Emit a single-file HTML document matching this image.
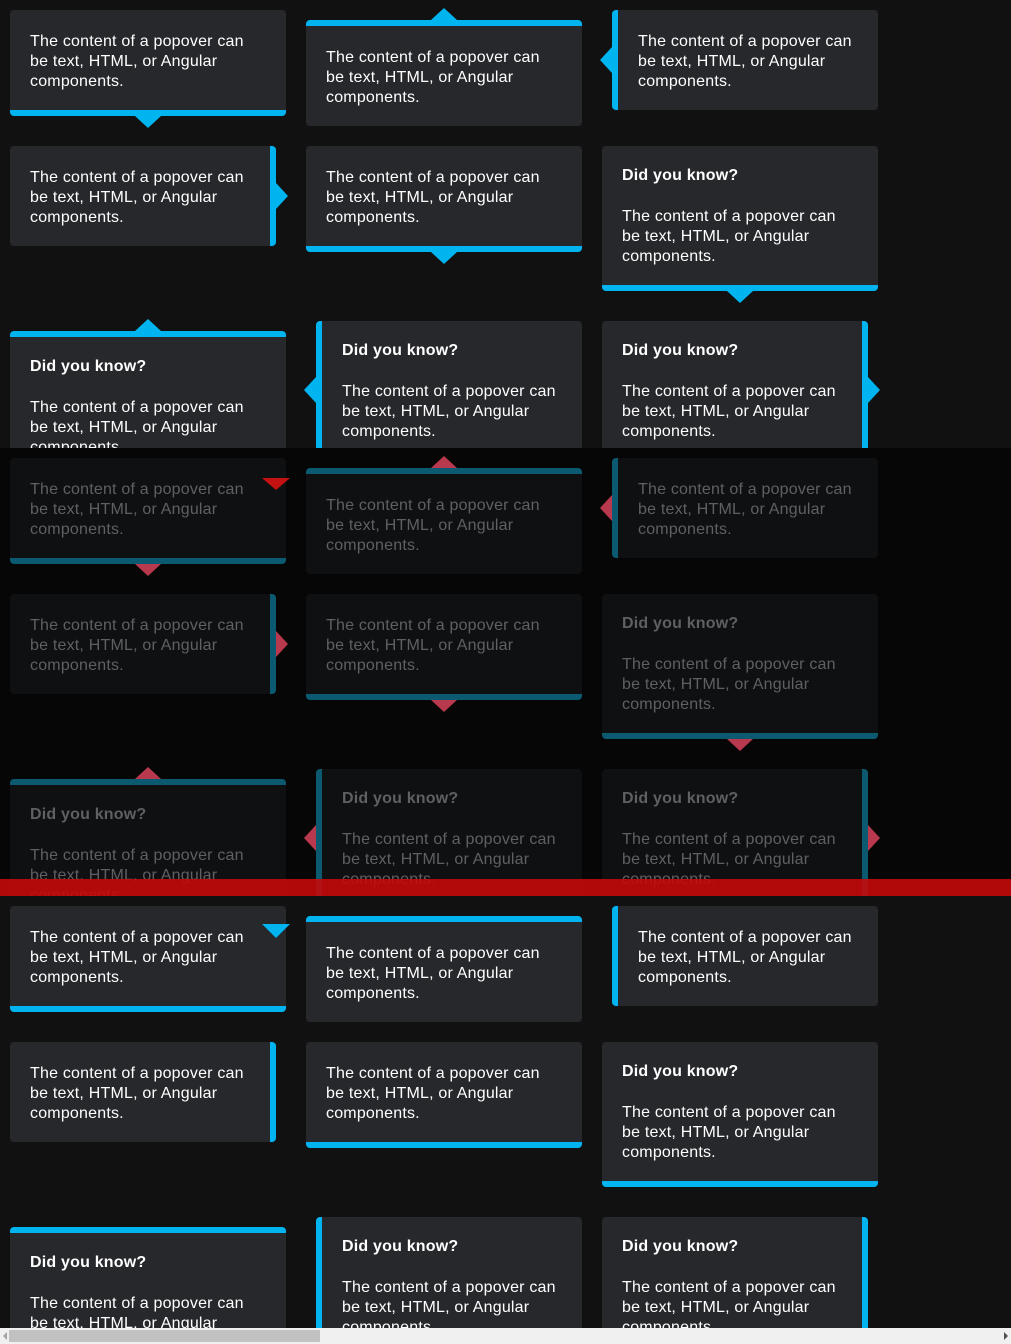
<!DOCTYPE html>
<html><head><meta charset="utf-8">
<style>
*{margin:0;padding:0;box-sizing:border-box}
html,body{width:1011px;height:1344px;overflow:hidden;background:#111112;font-family:"Liberation Sans",sans-serif}
.band{position:absolute;left:0;width:1011px;overflow:hidden}
.p{position:absolute;border-radius:4px;background:#27282c;color:#fff;font-size:16px;letter-spacing:0.2px;line-height:20px;padding:22px 26px 20px 20px}
.t{padding-top:20px}
.t h4{font-size:16px;font-weight:bold;line-height:20px;margin-bottom:21px}
.bb{border-bottom:6px solid #00b4ef}
.bt{border-top:6px solid #00b4ef}
.bl{border-left:6px solid #00b4ef}
.br{border-right:6px solid #00b4ef}
.a{position:absolute;width:0;height:0}
.ad{border-left:13px solid transparent;border-right:13px solid transparent;border-top:12px solid #00b4ef}
.au{border-left:13px solid transparent;border-right:13px solid transparent;border-bottom:12px solid #00b4ef}
.al{border-top:13px solid transparent;border-bottom:13px solid transparent;border-right:12px solid #00b4ef}
.ar{border-top:13px solid transparent;border-bottom:13px solid transparent;border-left:12px solid #00b4ef}
.dim{background:#060606}
.dim .p{background:#0f1012;color:#5f6063;border-color:#0b5a70}
.dim .ad{border-top-color:#b8394e}.dim .au{border-bottom-color:#b8394e}
.dim .al{border-right-color:#b8394e}.dim .ar{border-left-color:#b8394e}
</style></head><body>

<div class="band" style="top:0;height:448px">
<div class="p bb" style="left:10px;top:10px;width:276px;height:106px">The content of a popover can be text, HTML, or Angular components.</div>
<div class="a ad" style="left:135px;top:116px"></div>
<div class="p bt" style="left:306px;top:20px;width:276px;height:106px">The content of a popover can be text, HTML, or Angular components.</div>
<div class="a au" style="left:431px;top:8px"></div>
<div class="p bl" style="left:612px;top:10px;width:266px;height:100px">The content of a popover can be text, HTML, or Angular components.</div>
<div class="a al" style="left:600px;top:47px"></div>
<div class="p br" style="left:10px;top:146px;width:266px;height:100px">The content of a popover can be text, HTML, or Angular components.</div>
<div class="a ar" style="left:276px;top:183px"></div>
<div class="p bb" style="left:306px;top:146px;width:276px;height:106px">The content of a popover can be text, HTML, or Angular components.</div>
<div class="a ad" style="left:431px;top:252px"></div>
<div class="p bb t" style="left:602px;top:146px;width:276px;height:145px"><h4>Did you know?</h4>The content of a popover can be text, HTML, or Angular components.</div>
<div class="a ad" style="left:727px;top:291px"></div>
<div class="p bt t" style="left:10px;top:331px;width:276px;height:145px"><h4>Did you know?</h4>The content of a popover can be text, HTML, or Angular components.</div>
<div class="a au" style="left:135px;top:319px"></div>
<div class="p bl t" style="left:316px;top:321px;width:266px;height:139px"><h4>Did you know?</h4>The content of a popover can be text, HTML, or Angular components.</div>
<div class="a al" style="left:304px;top:377px"></div>
<div class="p br t" style="left:602px;top:321px;width:266px;height:139px"><h4>Did you know?</h4>The content of a popover can be text, HTML, or Angular components.</div>
<div class="a ar" style="left:868px;top:377px"></div>
</div>

<div class="band dim" style="top:448px;height:448px">
<div class="p bb" style="left:10px;top:10px;width:276px;height:106px">The content of a popover can be text, HTML, or Angular components.</div>
<div class="a ad" style="left:135px;top:116px"></div>
<div class="a" style="left:262px;top:30px;border-left:14px solid transparent;border-right:14px solid transparent;border-top:12px solid #c41212"></div>
<div class="p bt" style="left:306px;top:20px;width:276px;height:106px">The content of a popover can be text, HTML, or Angular components.</div>
<div class="a au" style="left:431px;top:8px"></div>
<div class="p bl" style="left:612px;top:10px;width:266px;height:100px">The content of a popover can be text, HTML, or Angular components.</div>
<div class="a al" style="left:600px;top:47px"></div>
<div class="p br" style="left:10px;top:146px;width:266px;height:100px">The content of a popover can be text, HTML, or Angular components.</div>
<div class="a ar" style="left:276px;top:183px"></div>
<div class="p bb" style="left:306px;top:146px;width:276px;height:106px">The content of a popover can be text, HTML, or Angular components.</div>
<div class="a ad" style="left:431px;top:252px"></div>
<div class="p bb t" style="left:602px;top:146px;width:276px;height:145px"><h4>Did you know?</h4>The content of a popover can be text, HTML, or Angular components.</div>
<div class="a ad" style="left:727px;top:291px"></div>
<div class="p bt t" style="left:10px;top:331px;width:276px;height:145px"><h4>Did you know?</h4>The content of a popover can be text, HTML, or Angular components.</div>
<div class="a au" style="left:135px;top:319px"></div>
<div class="p bl t" style="left:316px;top:321px;width:266px;height:139px"><h4>Did you know?</h4>The content of a popover can be text, HTML, or Angular components.</div>
<div class="a al" style="left:304px;top:377px"></div>
<div class="p br t" style="left:602px;top:321px;width:266px;height:139px"><h4>Did you know?</h4>The content of a popover can be text, HTML, or Angular components.</div>
<div class="a ar" style="left:868px;top:377px"></div>
<div style="position:absolute;left:0;top:431px;width:1011px;height:17px;background:rgba(196,10,10,0.9)"></div>
</div>

<div class="band" style="top:896px;height:432px">
<div class="p bb" style="left:10px;top:10px;width:276px;height:106px">The content of a popover can be text, HTML, or Angular components.</div>
<div class="a" style="left:262px;top:28px;border-left:14px solid transparent;border-right:14px solid transparent;border-top:14px solid #00b4ef"></div>
<div class="p bt" style="left:306px;top:20px;width:276px;height:106px">The content of a popover can be text, HTML, or Angular components.</div>
<div class="p bl" style="left:612px;top:10px;width:266px;height:100px">The content of a popover can be text, HTML, or Angular components.</div>
<div class="p br" style="left:10px;top:146px;width:266px;height:100px">The content of a popover can be text, HTML, or Angular components.</div>
<div class="p bb" style="left:306px;top:146px;width:276px;height:106px">The content of a popover can be text, HTML, or Angular components.</div>
<div class="p bb t" style="left:602px;top:146px;width:276px;height:145px"><h4>Did you know?</h4>The content of a popover can be text, HTML, or Angular components.</div>
<div class="p bt t" style="left:10px;top:331px;width:276px;height:145px"><h4>Did you know?</h4>The content of a popover can be text, HTML, or Angular components.</div>
<div class="p bl t" style="left:316px;top:321px;width:266px;height:139px"><h4>Did you know?</h4>The content of a popover can be text, HTML, or Angular components.</div>
<div class="p br t" style="left:602px;top:321px;width:266px;height:139px"><h4>Did you know?</h4>The content of a popover can be text, HTML, or Angular components.</div>
</div>

<div style="position:absolute;left:0;top:1328px;width:1011px;height:16px;background:#f0f0f0">
<div style="position:absolute;left:3px;top:4px;border-top:4px solid transparent;border-bottom:4px solid transparent;border-right:4px solid #a3a3a3"></div>
<div style="position:absolute;left:9px;top:2px;width:311px;height:12px;background:#c1c1c1"></div>
<div style="position:absolute;right:3px;top:4px;border-top:4px solid transparent;border-bottom:4px solid transparent;border-left:4px solid #505050"></div>
</div>
</body></html>
